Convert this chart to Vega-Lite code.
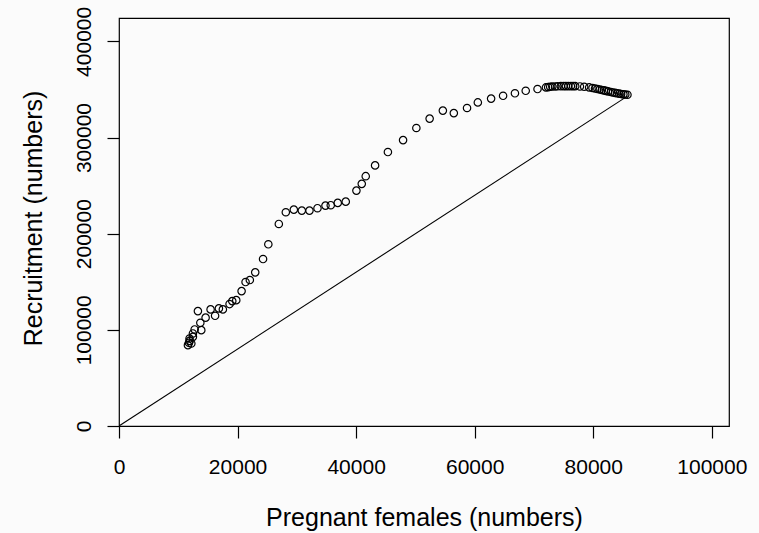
{
  "$schema": "https://vega.github.io/schema/vega-lite/v6.json",
  "autosize": {"type": "none"},
  "padding": {"left": 119, "top": 18, "right": 30, "bottom": 107},
  "width": 610,
  "height": 408,
  "background": "#fbfbfb",
  "config": {
    "view": {"stroke": "#000000", "strokeWidth": 1.2},
    "font": "Liberation Sans",
    "axis": {
      "grid": false,
      "domain": false,
      "tickColor": "#000000",
      "tickSize": 12,
      "tickWidth": 1.2,
      "labelColor": "#000000",
      "labelFont": "Liberation Sans",
      "labelFontSize": 21,
      "labelFontWeight": "normal",
      "titleColor": "#000000",
      "titleFont": "Liberation Sans",
      "titleFontSize": 25,
      "titleFontWeight": "normal"
    }
  },
  "datasets": {
    "points": [
      {"females": 11630, "recruitment": 84100},
      {"females": 11800, "recruitment": 86500},
      {"females": 11910, "recruitment": 88500},
      {"females": 12200, "recruitment": 85800},
      {"females": 11900, "recruitment": 91000},
      {"females": 12470, "recruitment": 92700},
      {"females": 12470, "recruitment": 96250},
      {"females": 12760, "recruitment": 100400},
      {"females": 13880, "recruitment": 99700},
      {"females": 13720, "recruitment": 107300},
      {"females": 13310, "recruitment": 119500},
      {"females": 14610, "recruitment": 112700},
      {"females": 15450, "recruitment": 121250},
      {"females": 16210, "recruitment": 114600},
      {"females": 16850, "recruitment": 122300},
      {"females": 17520, "recruitment": 121250},
      {"females": 18650, "recruitment": 126800},
      {"females": 19110, "recruitment": 129900},
      {"females": 19780, "recruitment": 130900},
      {"females": 20680, "recruitment": 140300},
      {"females": 21350, "recruitment": 149700},
      {"females": 22070, "recruitment": 151800},
      {"females": 22980, "recruitment": 159800},
      {"females": 24300, "recruitment": 173650},
      {"females": 25190, "recruitment": 188950},
      {"females": 26960, "recruitment": 210100},
      {"females": 28140, "recruitment": 222300},
      {"females": 29490, "recruitment": 225000},
      {"females": 30840, "recruitment": 224000},
      {"females": 32130, "recruitment": 224000},
      {"females": 33480, "recruitment": 226500},
      {"females": 34830, "recruitment": 229200},
      {"females": 35720, "recruitment": 229600},
      {"females": 36900, "recruitment": 232000},
      {"females": 38250, "recruitment": 233300},
      {"females": 40050, "recruitment": 244800},
      {"females": 40950, "recruitment": 251800},
      {"females": 41620, "recruitment": 259800},
      {"females": 43200, "recruitment": 271000},
      {"females": 45360, "recruitment": 284900},
      {"females": 47920, "recruitment": 297300},
      {"females": 50160, "recruitment": 309900},
      {"females": 52400, "recruitment": 319700},
      {"females": 54630, "recruitment": 328000},
      {"females": 56480, "recruitment": 325400},
      {"females": 58710, "recruitment": 330700},
      {"females": 60530, "recruitment": 336500},
      {"females": 62770, "recruitment": 340500},
      {"females": 64790, "recruitment": 343400},
      {"females": 66790, "recruitment": 346000},
      {"females": 68610, "recruitment": 348600},
      {"females": 70600, "recruitment": 350400},
      {"females": 72020, "recruitment": 352100},
      {"females": 72400, "recruitment": 352400},
      {"females": 72740, "recruitment": 352800},
      {"females": 73100, "recruitment": 353000},
      {"females": 73580, "recruitment": 353100},
      {"females": 74000, "recruitment": 353300},
      {"females": 74540, "recruitment": 353400},
      {"females": 75000, "recruitment": 353500},
      {"females": 75390, "recruitment": 353500},
      {"females": 75800, "recruitment": 353500},
      {"females": 76230, "recruitment": 353500},
      {"females": 76600, "recruitment": 353500},
      {"females": 76960, "recruitment": 353400},
      {"females": 77750, "recruitment": 353100},
      {"females": 78470, "recruitment": 352800},
      {"females": 79310, "recruitment": 352100},
      {"females": 79870, "recruitment": 351500},
      {"females": 80300, "recruitment": 351000},
      {"females": 80710, "recruitment": 350400},
      {"females": 81100, "recruitment": 349900},
      {"females": 81450, "recruitment": 349400},
      {"females": 81800, "recruitment": 349000},
      {"females": 82130, "recruitment": 348500},
      {"females": 82500, "recruitment": 348000},
      {"females": 82970, "recruitment": 347300},
      {"females": 83300, "recruitment": 346800},
      {"females": 83690, "recruitment": 346400},
      {"females": 84000, "recruitment": 346000},
      {"females": 84370, "recruitment": 345600},
      {"females": 84700, "recruitment": 345200},
      {"females": 85090, "recruitment": 344900},
      {"females": 85400, "recruitment": 344700},
      {"females": 85770, "recruitment": 344500}
    ],
    "line": [
      {"females": 0, "recruitment": 0},
      {"females": 85770, "recruitment": 343080}
    ]
  },
  "layer": [
    {
      "data": {"name": "line"},
      "mark": {"type": "line", "color": "#000000", "strokeWidth": 1.1, "clip": true},
      "encoding": {
        "x": {"field": "females", "type": "quantitative"},
        "y": {"field": "recruitment", "type": "quantitative"}
      }
    },
    {
      "data": {"name": "points"},
      "mark": {"type": "point", "shape": "circle", "filled": false, "color": "#000000", "strokeWidth": 1.2, "size": 55, "opacity": 1},
      "encoding": {
        "x": {
          "field": "females",
          "type": "quantitative",
          "scale": {"domain": [0, 102900], "nice": false, "zero": false},
          "axis": {
            "title": "Pregnant females (numbers)",
            "values": [0, 20000, 40000, 60000, 80000, 100000],
            "format": "d",
            "labelBaseline": "alphabetic",
            "labelPadding": 35,
            "labelFlush": false,
            "labelOverlap": false,
            "titleBaseline": "alphabetic",
            "titleAnchor": "middle",
            "titleX": 305,
            "titleY": 99
          }
        },
        "y": {
          "field": "recruitment",
          "type": "quantitative",
          "scale": {"domain": [0, 424300], "nice": false, "zero": false},
          "axis": {
            "title": "Recruitment (numbers)",
            "values": [0, 100000, 200000, 300000, 400000],
            "format": "d",
            "labelAngle": -90,
            "labelAlign": "center",
            "labelBaseline": "alphabetic",
            "labelPadding": 17,
            "labelFlush": false,
            "labelOverlap": false,
            "titleAngle": -90,
            "titleBaseline": "alphabetic",
            "titleAlign": "center",
            "titleX": -78,
            "titleY": 200
          }
        }
      }
    }
  ]
}
